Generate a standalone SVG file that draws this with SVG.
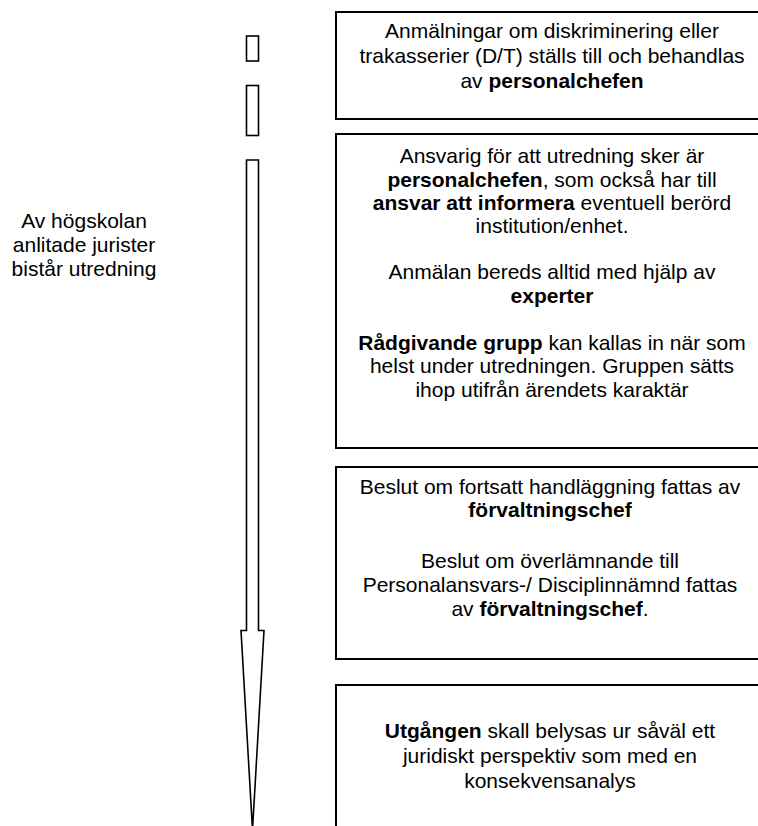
<svg xmlns="http://www.w3.org/2000/svg" width="758" height="826" viewBox="0 0 758 826">
<style>
.box{fill:#fff;stroke:#000;stroke-width:2}
.sh{fill:#fff;stroke:#000;stroke-width:1.6}
text{font-family:"Liberation Sans",Arial,sans-serif;font-size:21px;fill:#000;text-anchor:middle}
.b{font-weight:bold}
</style>
<rect width="758" height="826" fill="#fff"/>
<g id="connectors">
<rect class="sh" x="246.5" y="36" width="12" height="25"/>
<rect class="sh" x="246.5" y="85.5" width="12" height="50"/>
<polygon class="sh" points="246.5,160 258.5,160 258.5,630.5 264,630.5 252.5,830 241,630.5 246.5,630.5"/>
</g>
<g id="juristerna">
<text x="84" y="228">Av högskolan</text>
<text x="84" y="252">anlitade jurister</text>
<text x="84" y="276">bistår utredning</text>
</g>
<g id="anmalan">
<rect class="box" x="336" y="12" width="440" height="107"/>
<text x="552" y="38">Anmälningar om diskriminering eller</text>
<text x="552" y="63">trakasserier (D/T) ställs till och behandlas</text>
<text x="552" y="88">av <tspan class="b">personalchefen</tspan></text>
</g>
<g id="utredning">
<rect class="box" x="336" y="134" width="440" height="314"/>
<text x="552" y="163">Ansvarig för att utredning sker är</text>
<text x="552" y="186.5"><tspan class="b">personalchefen</tspan>, som också har till</text>
<text x="552" y="210"><tspan class="b">ansvar att informera</tspan> eventuell berörd</text>
<text x="552" y="233">institution/enhet.</text>
<text x="552" y="279">Anmälan bereds alltid med hjälp av</text>
<text x="552" y="303" class="b">experter</text>
<text x="552" y="350"><tspan class="b">Rådgivande grupp</tspan> kan kallas in när som</text>
<text x="552" y="373">helst under utredningen. Gruppen sätts</text>
<text x="552" y="397">ihop utifrån ärendets karaktär</text>
</g>
<g id="beslut">
<rect class="box" x="336" y="467" width="440" height="192"/>
<text x="550" y="494">Beslut om fortsatt handläggning fattas av</text>
<text x="550" y="517" class="b">förvaltningschef</text>
<text x="550" y="568">Beslut om överlämnande till</text>
<text x="550" y="592">Personalansvars-/ Disciplinnämnd fattas</text>
<text x="550" y="616">av <tspan class="b">förvaltningschef</tspan>.</text>
</g>
<g id="utgangen">
<rect class="box" x="336" y="685" width="440" height="160"/>
<text x="550" y="738"><tspan class="b">Utgången</tspan> skall belysas ur såväl ett</text>
<text x="550" y="763">juridiskt perspektiv som med en</text>
<text x="550" y="788">konsekvensanalys</text>
</g>
</svg>
